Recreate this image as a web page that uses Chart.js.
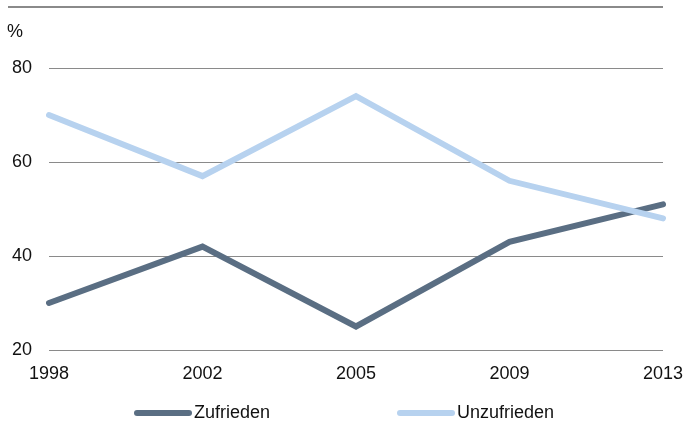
<!DOCTYPE html>
<html>
<head>
<meta charset="utf-8">
<script src="https://cdn.jsdelivr.net/npm/chart.js@4.4.1/dist/chart.umd.min.js"></script>
<style>
  html, body { margin: 0; padding: 0; background: #fff; }
  #wrap { width: 685px; height: 426px; }
</style>
</head>
<body>
<div id="wrap"><canvas id="zufriedenheitChart"></canvas></div>
<script>
// Survey years and shares (%)
let jahre = ["1998", "2002", "2005", "2009", "2013"];
let zufrieden = [30, 42, 25, 43, 51];
let unzufrieden = [70, 57, 74, 56, 48];
let yTicks = [20, 40, 60, 80];

let farbeDunkel = "#5a6e83";
let farbeHell = "#b7d2ef";
let gitterFarbe = "#8a8a8a";
let schrift = "'Liberation Sans', Arial, sans-serif";

// Frame line on top, unit label and line legend at the bottom
const extras = {
    id: "extras",
    afterDraw(chart) {
        let ctx = chart.ctx;
        let area = chart.chartArea;
        ctx.save();

        ctx.strokeStyle = gitterFarbe;
        ctx.lineWidth = 2;
        ctx.beginPath();
        ctx.moveTo(8, 7);
        ctx.lineTo(area.right, 7);
        ctx.stroke();

        ctx.fillStyle = "#111";
        ctx.font = "18px " + schrift;
        ctx.textBaseline = "middle";
        ctx.textAlign = "left";
        ctx.fillText("%", 7, 32);

        let starts = [137, 400];
        let y = 413;
        chart.data.datasets.forEach((ds, i) => {
            let x = starts[i];
            ctx.strokeStyle = ds.borderColor;
            ctx.lineWidth = 6;
            ctx.lineCap = "round";
            ctx.beginPath();
            ctx.moveTo(x, y);
            ctx.lineTo(x + 52, y);
            ctx.stroke();
            ctx.fillStyle = "#111";
            ctx.fillText(ds.label, x + 57, y);
        });
        ctx.restore();
    }
};

let ctx = document.getElementById("zufriedenheitChart").getContext("2d");
let chart = new Chart(ctx, {
    type: "line",
    data: {
        labels: jahre,
        datasets: [{
            label: "Zufrieden",
            data: zufrieden,
            borderColor: farbeDunkel,
            backgroundColor: farbeDunkel,
            borderWidth: 6,
            borderCapStyle: "round",
            borderJoinStyle: "miter",
            pointRadius: 0,
            tension: 0,
            order: 1
        }, {
            label: "Unzufrieden",
            data: unzufrieden,
            borderColor: farbeHell,
            backgroundColor: farbeHell,
            borderWidth: 6,
            borderCapStyle: "round",
            borderJoinStyle: "miter",
            pointRadius: 0,
            tension: 0,
            order: 0
        }]
    },
    options: {
        responsive: true,
        maintainAspectRatio: false,
        animation: false,
        layout: {
            padding: { top: 68, right: 22, bottom: 46, left: 0 }
        },
        plugins: {
            legend: { display: false },
            tooltip: { enabled: false }
        },
        scales: {
            x: {
                offset: false,
                grid: { display: false, drawTicks: false },
                border: { display: false },
                ticks: {
                    color: "#111",
                    font: { family: schrift, size: 18 },
                    padding: 13,
                    maxRotation: 0,
                    autoSkip: false
                },
                afterFit(scale) {
                    // let the end labels hang over the plot edges
                    scale.height = 30;
                    scale.paddingLeft = 0;
                    scale.paddingRight = 0;
                }
            },
            y: {
                min: 20,
                max: 80,
                afterBuildTicks(scale) {
                    scale.ticks = yTicks.map(v => ({ value: v }));
                },
                grid: { color: gitterFarbe, lineWidth: 1, drawTicks: false },
                border: { display: false },
                ticks: {
                    color: "#111",
                    font: { family: schrift, size: 18 },
                    padding: 17
                },
                afterFit(scale) { scale.width = 49; }
            }
        }
    },
    plugins: [extras]
});
</script>
</body>
</html>
